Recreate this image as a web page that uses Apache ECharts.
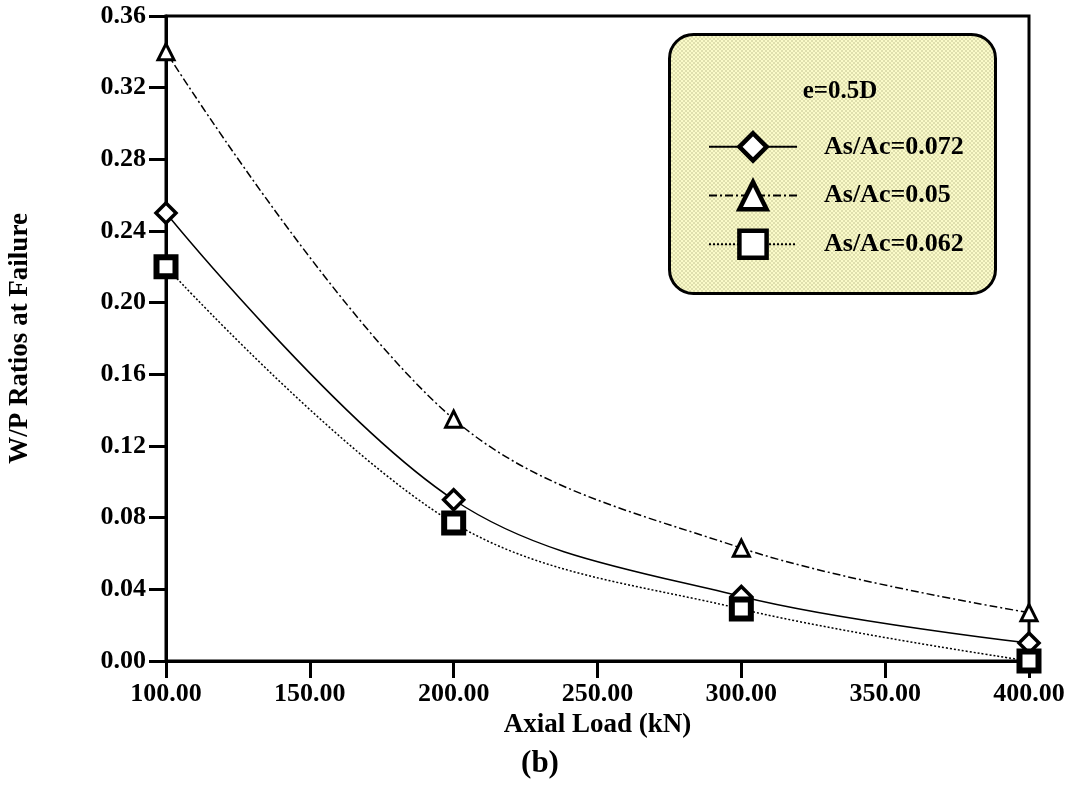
<!DOCTYPE html>
<html><head><meta charset="utf-8">
<script src="https://cdn.jsdelivr.net/npm/echarts@6/dist/echarts.min.js"></script>
<style>html,body{margin:0;padding:0;background:#fff}#c{width:1072px;height:811px}</style>
</head><body><div id="c"></div>
<script>
const loads = [100, 200, 300, 400];
const ratio072 = [0.25, 0.09, 0.036, 0.01];
const ratio050 = [0.34, 0.135, 0.063, 0.027];
const ratio062 = [0.22, 0.077, 0.029, 0.0];
const seriesNames = ['As/Ac=0.072', 'As/Ac=0.05', 'As/Ac=0.062'];

const F = 'Liberation Serif, Times New Roman, serif';
const pat = document.createElement('canvas');
pat.width = 4; pat.height = 4;
const pc = pat.getContext('2d');
pc.fillStyle = '#fbfbc9'; pc.fillRect(0,0,4,4);
pc.fillStyle = '#8e8e60';
pc.fillRect(0,0,1,1); pc.fillRect(2,2,1,1);

const pairs = a => loads.map((x,i)=>[x,a[i]]);
const chart = echarts.init(document.getElementById('c'));
chart.setOption({
  backgroundColor:'#fff',
  animation:false,
  grid:{left:166,right:43,top:16,bottom:150,show:true,borderColor:'#000',borderWidth:3,
    containLabel:false,outerBoundsMode:'none'},
  title:[
    {text:'e=0.5D',left:835,top:74,textAlign:'center',textStyle:{fontFamily:F,fontWeight:'bold',fontSize:25,color:'#000'}},
    {text:'(b)',left:535,top:743,textAlign:'center',textStyle:{fontFamily:F,fontWeight:'bold',fontSize:31,color:'#000'}}
  ],
  graphic:[{type:'rect',left:668,top:33,z:0,shape:{width:326,height:259,r:24},
    style:{fill:{image:pat,repeat:'repeat'},stroke:'#000',lineWidth:3}}],
  legend:{orient:'vertical',left:703,top:126,itemWidth:88,itemHeight:34,itemGap:17,z:5,
    data:seriesNames,
    itemStyle:{borderWidth:4.5},
    textStyle:{fontFamily:F,fontWeight:'bold',fontSize:26,color:'#000',padding:[0,0,0,22]}},
  xAxis:{type:'value',min:100,max:400,interval:50,
    name:'Axial Load (kN)',nameLocation:'middle',nameGap:42,
    nameTextStyle:{fontFamily:F,fontWeight:'bold',fontSize:27,color:'#000'},
    axisLine:{lineStyle:{color:'#000',width:3}},
    axisTick:{show:true,length:17,lineStyle:{color:'#000',width:3}},splitLine:{show:false},
    axisLabel:{formatter:v=>v.toFixed(2),fontFamily:F,fontWeight:'bold',fontSize:26,color:'#000',margin:20}},
  yAxis:{type:'value',min:0,max:0.36,interval:0.04,
    name:'W/P Ratios at Failure',nameLocation:'middle',nameGap:132,nameRotate:90,
    nameTextStyle:{fontFamily:F,fontWeight:'bold',fontSize:27,color:'#000'},
    axisLine:{lineStyle:{color:'#000',width:3}},
    axisTick:{length:17,lineStyle:{color:'#000',width:3}},splitLine:{show:false},
    axisLabel:{formatter:v=>v.toFixed(2),fontFamily:F,fontWeight:'bold',fontSize:26,color:'#000',margin:20}},
  series:[
    {name:seriesNames[0],type:'line',data:pairs(ratio072),smooth:0.35,z:3,
      symbol:'diamond',symbolSize:20,color:'#000',
      lineStyle:{color:'#000',width:1.5,type:'solid'},
      itemStyle:{color:'#fff',borderColor:'#000',borderWidth:3.5}},
    {name:seriesNames[1],type:'line',data:pairs(ratio050),smooth:0.35,z:3,
      symbol:'triangle',symbolSize:16,color:'#000',
      lineStyle:{color:'#000',width:1.5,type:[8,3,2,3]},
      itemStyle:{color:'#fff',borderColor:'#000',borderWidth:3}},
    {name:seriesNames[2],type:'line',data:pairs(ratio062),smooth:0.35,z:3,
      symbol:'rect',symbolSize:19,color:'#000',
      lineStyle:{color:'#000',width:1.5,type:[2,2]},
      itemStyle:{color:'#fff',borderColor:'#000',borderWidth:6}}
  ]
});
</script></body></html>
